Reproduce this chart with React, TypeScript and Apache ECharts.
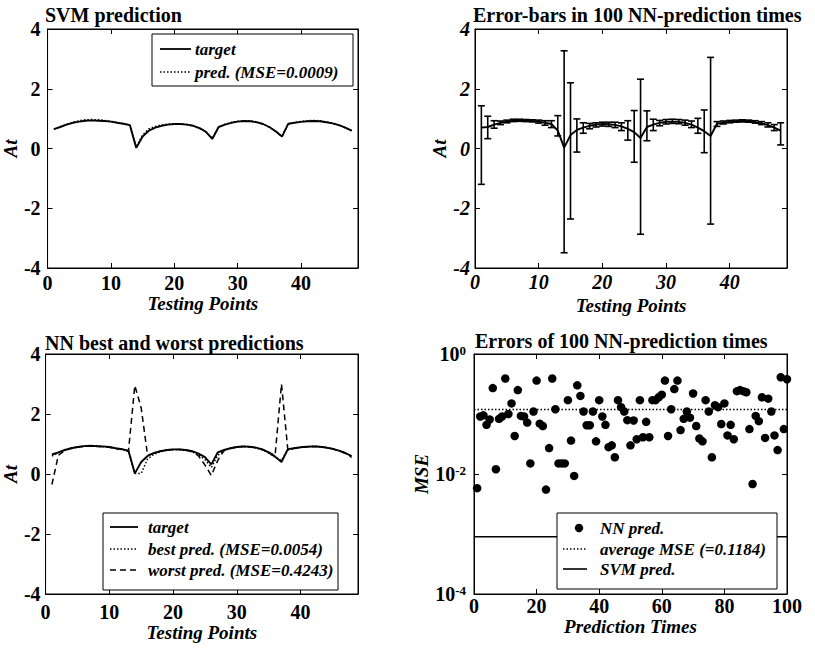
import React, { useEffect, useRef } from "react";
import * as echarts from "echarts";

// ---------- data ----------
const testingPoints = [
  1, 2, 3, 4, 5, 6, 7, 8, 9, 10, 11, 12, 13, 14, 15, 16, 17, 18, 19, 20, 21, 22, 23, 24,
  25, 26, 27, 28, 29, 30, 31, 32, 33, 34, 35, 36, 37, 38, 39, 40, 41, 42, 43, 44, 45, 46, 47, 48,
];
const target = [
  0.65, 0.72, 0.8, 0.86, 0.9, 0.93, 0.94, 0.93, 0.92, 0.9, 0.86, 0.83, 0.78, 0.02, 0.4, 0.6,
  0.7, 0.76, 0.8, 0.82, 0.82, 0.8, 0.76, 0.68, 0.56, 0.32, 0.72, 0.8, 0.86, 0.9, 0.92, 0.91,
  0.88, 0.82, 0.72, 0.58, 0.4, 0.83, 0.86, 0.89, 0.91, 0.92, 0.91, 0.88, 0.84, 0.78, 0.7, 0.6,
];
const svmPred = [
  0.64, 0.73, 0.81, 0.88, 0.93, 0.96, 0.97, 0.96, 0.94, 0.91, 0.87, 0.83, 0.77, 0.05, 0.45, 0.66,
  0.74, 0.79, 0.82, 0.83, 0.83, 0.8, 0.75, 0.67, 0.55, 0.34, 0.71, 0.81, 0.87, 0.91, 0.93, 0.93,
  0.89, 0.82, 0.71, 0.57, 0.41, 0.82, 0.87, 0.91, 0.93, 0.94, 0.93, 0.89, 0.85, 0.78, 0.69, 0.59,
];
const nnMean = [
  0.7, 0.72, 0.8, 0.86, 0.9, 0.93, 0.94, 0.93, 0.92, 0.9, 0.86, 0.82, 0.6, 0.03, 0.45, 0.62,
  0.7, 0.76, 0.8, 0.82, 0.81, 0.79, 0.74, 0.66, 0.55, 0.35, 0.72, 0.8, 0.86, 0.89, 0.9, 0.89,
  0.86, 0.8, 0.7, 0.58, 0.42, 0.83, 0.86, 0.89, 0.91, 0.92, 0.91, 0.88, 0.84, 0.78, 0.7, 0.6,
];
const errLow = [
  -1.2, 0.33, 0.68, 0.8, 0.86, 0.9, 0.91, 0.9, 0.89, 0.85, 0.78, 0.7, 0.42, -3.49, -2.36, -0.12,
  0.51, 0.66, 0.72, 0.75, 0.74, 0.7, 0.6, 0.28, -0.46, -2.87, 0.26, 0.6, 0.76, 0.82, 0.84, 0.83,
  0.78, 0.7, 0.51, -0.14, -2.53, 0.74, 0.82, 0.86, 0.88, 0.89, 0.88, 0.85, 0.8, 0.72, 0.6, 0.12,
];
const errHigh = [
  1.43, 1.08, 0.93, 0.92, 0.95, 0.98, 0.98, 0.97, 0.96, 0.95, 0.93, 0.93, 1.1, 3.27, 2.2, 0.99,
  0.86, 0.84, 0.86, 0.88, 0.88, 0.88, 0.86, 0.93, 1.27, 2.32, 1.26, 0.98, 0.94, 0.97, 0.98, 0.97,
  0.95, 0.92, 1.01, 1.29, 3.05, 0.9, 0.92, 0.94, 0.95, 0.96, 0.95, 0.93, 0.9, 0.86, 0.8, 0.86,
];
const bestPred = [
  0.6, 0.7, 0.8, 0.86, 0.9, 0.92, 0.93, 0.93, 0.91, 0.89, 0.85, 0.81, 0.75, 0.02, 0.02, 0.5,
  0.66, 0.74, 0.79, 0.81, 0.81, 0.79, 0.74, 0.64, 0.48, 0.22, 0.62, 0.78, 0.85, 0.89, 0.91, 0.9,
  0.87, 0.8, 0.7, 0.56, 0.45, 0.8, 0.86, 0.89, 0.91, 0.92, 0.91, 0.88, 0.84, 0.78, 0.7, 0.58,
];
const worstPred = [
  -0.35, 0.62, 0.78, 0.85, 0.89, 0.92, 0.93, 0.92, 0.91, 0.89, 0.85, 0.82, 0.76, 2.95, 2.2, 0.62,
  0.7, 0.76, 0.8, 0.82, 0.82, 0.8, 0.75, 0.6, 0.3, -0.05, 0.45, 0.78, 0.86, 0.9, 0.92, 0.91,
  0.88, 0.82, 0.72, 0.62, 3.0, 0.8, 0.86, 0.89, 0.91, 0.92, 0.91, 0.88, 0.84, 0.78, 0.7, 0.55,
];
const predictionTimes = [
  1, 2, 3, 4, 5, 6, 7, 8, 9, 10, 11, 12, 13, 14, 15, 16, 17, 18, 19, 20, 21, 22, 23, 24, 25,
  26, 27, 28, 29, 30, 31, 32, 33, 34, 35, 36, 37, 38, 39, 40, 41, 42, 43, 44, 45, 46, 47, 48, 49, 50,
  51, 52, 53, 54, 55, 56, 57, 58, 59, 60, 61, 62, 63, 64, 65, 66, 67, 68, 69, 70, 71, 72, 73, 74, 75,
  76, 77, 78, 79, 80, 81, 82, 83, 84, 85, 86, 87, 88, 89, 90, 91, 92, 93, 94, 95, 96, 97, 98, 99, 100,
];
const nnMse = [
  0.0058, 0.091, 0.095, 0.066, 0.081, 0.27, 0.012, 0.083, 0.091, 0.39,
  0.1, 0.15, 0.043, 0.25, 0.093, 0.091, 0.072, 0.015, 0.11, 0.36,
  0.069, 0.063, 0.0055, 0.027, 0.39, 0.12, 0.015, 0.015, 0.015, 0.17,
  0.036, 0.0093, 0.3, 0.2, 0.11, 0.065, 0.065, 0.11, 0.035, 0.17,
  0.091, 0.066, 0.028, 0.03, 0.019, 0.17, 0.13, 0.11, 0.079, 0.03,
  0.078, 0.038, 0.17, 0.041, 0.074, 0.041, 0.17, 0.17, 0.19, 0.21,
  0.36, 0.043, 0.12, 0.26, 0.36, 0.054, 0.083, 0.11, 0.087, 0.22,
  0.063, 0.039, 0.035, 0.17, 0.11, 0.019, 0.14, 0.13, 0.068, 0.15,
  0.044, 0.066, 0.038, 0.24, 0.25, 0.24, 0.23, 0.056, 0.0068, 0.093,
  0.076, 0.19, 0.04, 0.18, 0.11, 0.044, 0.025, 0.41, 0.056, 0.38,
];
const averageMse = 0.1184;
const svmMse = 0.0009;

const titles = [
  "SVM prediction",
  "Error-bars in 100 NN-prediction times",
  "NN best and worst predictions",
  "Errors of 100 NN-prediction times",
];

// ---------- styling ----------
const FONT = "'Liberation Serif', 'Times New Roman', Times, serif";
const BLACK = "#000";
const axisLine = { show: true, onZero: false, lineStyle: { color: BLACK, width: 1 } };
const axisTick = { show: true, inside: true, length: 5, lineStyle: { color: BLACK, width: 1 } };
const nameStyle = { fontFamily: FONT, fontStyle: "italic", fontWeight: "bold", fontSize: 19, color: BLACK };

const grids = [
  { left: 45, top: 29, width: 313, height: 239 },
  { left: 475, top: 29, width: 312, height: 239 },
  { left: 45, top: 354, width: 313, height: 240 },
  { left: 474, top: 354, width: 313, height: 240 },
];

function labelStyle(italic: boolean, margin: number, extra: any = {}) {
  return {
    show: true,
    margin,
    color: BLACK,
    fontFamily: FONT,
    fontWeight: "bold",
    fontStyle: italic ? "italic" : "normal",
    fontSize: 20,
    ...extra,
  };
}

function xPair(gi: number, max: number, interval: number, italic: boolean, margin: number, name: string, nameGap: number, showMax: boolean) {
  const common = { type: "value", gridIndex: gi, min: 0, max, interval, axisLine, axisTick, splitLine: { show: false } };
  return [
    { ...common, position: "bottom", name, nameLocation: "middle", nameGap, nameTextStyle: nameStyle, axisLabel: labelStyle(italic, margin, { showMaxLabel: showMax, showMinLabel: true }) },
    { ...common, position: "top", axisLabel: { show: false } },
  ];
}

function yPair(gi: number, italic: boolean, margin: number, nameGap: number) {
  const common = { type: "value", gridIndex: gi, min: -4, max: 4, interval: 2, axisLine, axisTick, splitLine: { show: false } };
  return [
    { ...common, position: "left", name: "At", nameLocation: "middle", nameGap, nameTextStyle: nameStyle, axisLabel: labelStyle(italic, margin, { showMaxLabel: true, showMinLabel: true }) },
    { ...common, position: "right", axisLabel: { show: false } },
  ];
}

function logYPair(gi: number) {
  const common = { type: "log", logBase: 100, gridIndex: gi, min: 0.0001, max: 1, axisLine, axisTick, splitLine: { show: false } };
  return [
    {
      ...common,
      position: "left",
      name: "MSE",
      nameLocation: "middle",
      nameGap: 22,
      nameTextStyle: nameStyle,
      axisLabel: {
        show: true,
        margin: 8,
        showMinLabel: true,
        showMaxLabel: true,
        formatter: (v: number) => `{b|10}{s|${Math.round(Math.log10(v))}}`,
        rich: {
          b: { fontFamily: FONT, fontWeight: "bold", fontSize: 20, color: BLACK },
          s: { fontFamily: FONT, fontWeight: "bold", fontSize: 13, color: BLACK, verticalAlign: "top" },
        },
      },
    },
    { ...common, position: "right", axisLabel: { show: false } },
  ];
}

const solid = (w = 1.9) => ({ color: BLACK, width: w, type: "solid" as const });
const dotted = { color: BLACK, width: 1.5, type: [1.5, 2] as any };
const dashed = { color: BLACK, width: 1.5, type: [6, 4] as any };

function lineSeries(gi: number, data: number[][], lineStyle: any, z = 2) {
  return {
    type: "line",
    xAxisIndex: gi * 2,
    yAxisIndex: gi * 2,
    data,
    symbol: "none",
    showSymbol: false,
    lineStyle,
    z,
  };
}

// ---------- legend & title graphics ----------
const legendText = (x: number, y: number, text: string) => ({
  type: "text",
  x,
  y,
  z: 101,
  style: { text, fontFamily: FONT, fontSize: 17, fontWeight: "bold", fontStyle: "italic", fill: BLACK, verticalAlign: "middle", align: "left" },
});
const legendLine = (x1: number, x2: number, y: number, dash: number[] | null, w = 1.6) => ({
  type: "line",
  z: 101,
  shape: { x1, y1: y, x2, y2: y },
  style: { stroke: BLACK, lineWidth: w, lineDash: dash || undefined },
});
const legendBox = (x: number, y: number, width: number, height: number) => ({
  type: "rect",
  z: 100,
  shape: { x, y, width, height },
  style: { fill: "#fff", stroke: BLACK, lineWidth: 1 },
});
const titleText = (x: number, y: number, text: string) => ({
  type: "text",
  x,
  y,
  z: 101,
  style: { text, fontFamily: FONT, fontSize: 20, fontWeight: "bold", fill: BLACK, verticalAlign: "middle", align: "left" },
});

export default function App() {
  const ref = useRef<HTMLDivElement>(null);

  useEffect(() => {
    if (!ref.current) return;
    const chart = echarts.init(ref.current, undefined, { renderer: "svg" });

    const errData = testingPoints.map((p, i) => [p, errLow[i], errHigh[i]]);

    const option: any = {
      animation: false,
      backgroundColor: "#fff",
      grid: grids.map((g) => ({ ...g, show: true, borderColor: BLACK, borderWidth: 1, backgroundColor: "transparent" })),
      xAxis: [
        ...xPair(0, 49, 10, false, 5, "Testing Points", 24, false),
        ...xPair(1, 49, 10, true, 4, "Testing Points", 28, false),
        ...xPair(2, 49, 10, false, 8, "Testing Points", 29, false),
        ...xPair(3, 100, 20, false, 2, "Prediction Times", 21, true),
      ],
      yAxis: [
        ...yPair(0, false, 7, 22),
        ...yPair(1, true, 5, 22),
        ...yPair(2, false, 5, 22),
        ...logYPair(3),
      ],
      series: [
        // panel 1
        lineSeries(0, testingPoints.map((p, i) => [p, svmPred[i]]), dotted, 2),
        lineSeries(0, testingPoints.map((p, i) => [p, target[i]]), solid(), 3),
        // panel 2
        lineSeries(1, testingPoints.map((p, i) => [p, nnMean[i]]), solid(), 3),
        {
          type: "custom",
          xAxisIndex: 2,
          yAxisIndex: 2,
          data: errData,
          encode: { x: 0, y: [1, 2] },
          z: 4,
          renderItem: (params: any, api: any) => {
            const x = api.value(0);
            const lo = api.coord([x, api.value(1)]);
            const hi = api.coord([x, api.value(2)]);
            const cap = 3.5;
            const st = { stroke: BLACK, lineWidth: 1.6 };
            return {
              type: "group",
              children: [
                { type: "line", shape: { x1: lo[0], y1: lo[1], x2: hi[0], y2: hi[1] }, style: st },
                { type: "line", shape: { x1: lo[0] - cap, y1: lo[1], x2: lo[0] + cap, y2: lo[1] }, style: st },
                { type: "line", shape: { x1: hi[0] - cap, y1: hi[1], x2: hi[0] + cap, y2: hi[1] }, style: st },
              ],
            };
          },
        },
        // panel 3
        lineSeries(2, testingPoints.map((p, i) => [p, worstPred[i]]), dashed, 2),
        lineSeries(2, testingPoints.map((p, i) => [p, bestPred[i]]), dotted, 3),
        lineSeries(2, testingPoints.map((p, i) => [p, target[i]]), solid(), 4),
        // panel 4
        {
          type: "scatter",
          xAxisIndex: 6,
          yAxisIndex: 6,
          data: predictionTimes.map((t, i) => [t, nnMse[i]]),
          symbol: "circle",
          symbolSize: 8.5,
          itemStyle: { color: BLACK, opacity: 1 },
          z: 3,
        },
        lineSeries(3, [[0, averageMse], [100, averageMse]], dotted, 2),
        lineSeries(3, [[0, svmMse], [100, svmMse]], solid(1.5), 2),
      ],
      graphic: [
        titleText(45, 15, titles[0]),
        titleText(473, 15, titles[1]),
        titleText(45, 343, titles[2]),
        titleText(475, 341, titles[3]),
        // legend 1
        legendBox(152, 34, 201, 52),
        legendLine(160, 191, 49, null, 1.8),
        legendText(195, 49, "target"),
        legendLine(160, 191, 72, [1.5, 2], 1.5),
        legendText(195, 72, "pred. (MSE=0.0009)"),
        // legend 3
        legendBox(103, 513, 235, 77),
        legendLine(110, 138, 527, null, 1.8),
        legendText(148, 527, "target"),
        legendLine(110, 138, 549, [1.5, 2], 1.5),
        legendText(148, 549, "best pred. (MSE=0.0054)"),
        legendLine(110, 138, 570, [6, 4], 1.5),
        legendText(148, 570, "worst pred. (MSE=0.4243)"),
        // legend 4
        legendBox(557, 513, 220, 76),
        { type: "circle", z: 101, shape: { cx: 579, cy: 528, r: 4.2 }, style: { fill: BLACK } },
        legendText(600, 528, "NN pred."),
        legendLine(563, 587, 549, [1.5, 2], 1.5),
        legendText(600, 549, "average MSE (=0.1184)"),
        legendLine(563, 587, 569, null, 1.6),
        legendText(600, 569, "SVM pred."),
      ],
    };

    chart.setOption(option);
    return () => chart.dispose();
  }, []);

  return <div ref={ref} style={{ position: "absolute", left: 0, top: 0, width: 815, height: 650, background: "#fff" }} />;
}
